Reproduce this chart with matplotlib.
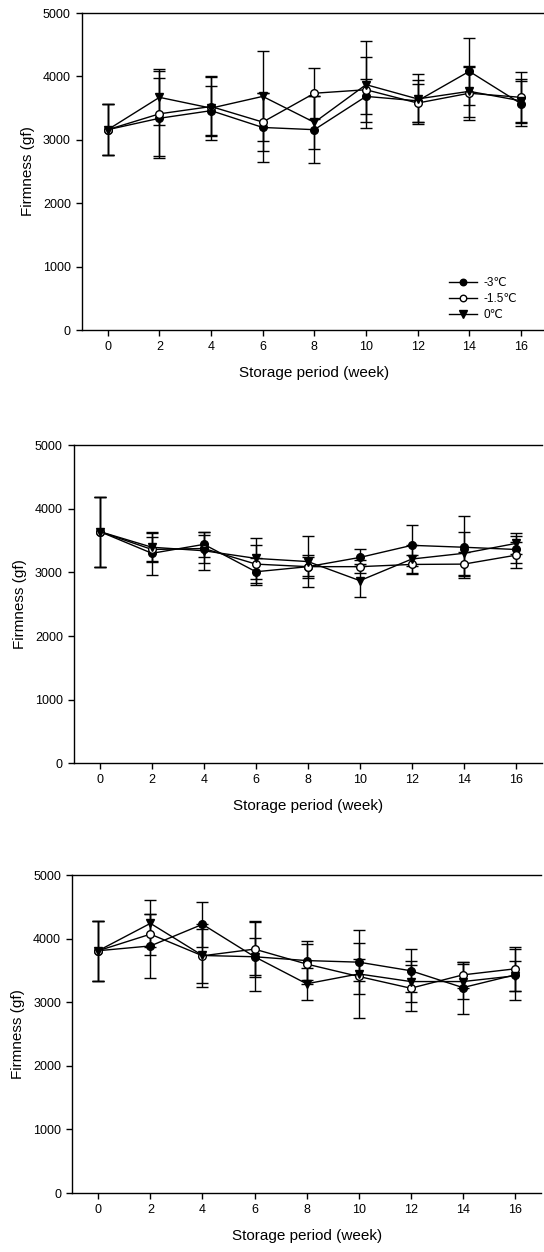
import numpy as np
import matplotlib.pyplot as plt

plt.rcParams['font.family'] = ['Liberation Sans', 'DejaVu Sans']

weeks = [0, 2, 4, 6, 8, 10, 12, 14, 16]
labels = ['-3\u2103', '-1.5\u2103', '0\u2103']

# panel 1
p1_m3 = [3160, 3340, 3460, 3195, 3160, 3685, 3615, 4080, 3570]
p1_m15 = [3160, 3410, 3525, 3280, 3735, 3790, 3580, 3735, 3670]
p1_0 = [3160, 3670, 3500, 3685, 3275, 3870, 3645, 3765, 3615]
p1_m3_err = [400, 630, 390, 550, 525, 280, 330, 525, 350]
p1_m15_err = [400, 670, 460, 460, 405, 510, 300, 420, 395]
p1_0_err = [400, 440, 500, 710, 415, 685, 400, 400, 350]

# panel 2
p2_m3 = [3640, 3300, 3440, 3010, 3090, 3235, 3425, 3395, 3360]
p2_m15 = [3640, 3360, 3375, 3130, 3090, 3090, 3125, 3130, 3270]
p2_0 = [3640, 3395, 3340, 3220, 3170, 2870, 3210, 3300, 3455]
p2_m3_err = [550, 340, 200, 210, 150, 130, 320, 490, 210]
p2_m15_err = [550, 200, 220, 300, 185, 100, 150, 185, 200]
p2_0_err = [550, 220, 300, 325, 395, 260, 225, 340, 170]

# panel 3
p3_m3 = [3810, 3885, 4225, 3715, 3655, 3630, 3495, 3230, 3430]
p3_m15 = [3810, 4070, 3730, 3835, 3600, 3405, 3220, 3430, 3525]
p3_0 = [3810, 4240, 3735, 3715, 3290, 3445, 3325, 3325, 3415]
p3_m3_err = [470, 500, 355, 290, 300, 300, 340, 410, 400]
p3_m15_err = [470, 320, 420, 445, 315, 280, 365, 200, 350]
p3_0_err = [470, 370, 500, 540, 250, 690, 325, 275, 235]

panels = [
    ([0.1507, 0.7364, 0.8544, 0.2532], (p1_m3, p1_m15, p1_0), (p1_m3_err, p1_m15_err, p1_0_err), True),
    ([0.1360, 0.3903, 0.8600, 0.2542], (p2_m3, p2_m15, p2_0), (p2_m3_err, p2_m15_err, p2_0_err), False),
    ([0.1329, 0.0471, 0.8616, 0.2540], (p3_m3, p3_m15, p3_0), (p3_m3_err, p3_m15_err, p3_0_err), False),
]

styles = [
    dict(marker='o', mfc='black', mec='black', ms=5.5),
    dict(marker='o', mfc='white', mec='black', ms=5.5),
    dict(marker='v', mfc='black', mec='black', ms=6),
]

fig = plt.figure(figsize=(5.44, 12.52), dpi=100)

for pos, series, errs, show_legend in panels:
    ax = fig.add_axes(pos)
    for vals, err, st, lab in zip(series, errs, styles, labels):
        ax.errorbar(weeks, vals, yerr=err, color='black', lw=1, elinewidth=1,
                    capsize=4, capthick=1, label=lab, zorder=3, **st)
    ax.set_xlim(-1, 17)
    ax.set_ylim(0, 5000)
    ax.set_xticks(weeks)
    ax.set_yticks([0, 1000, 2000, 3000, 4000, 5000])
    ax.tick_params(direction='out', length=4, width=1, labelsize=9, pad=4)
    ax.spines['right'].set_visible(False)
    for s in ['left', 'bottom', 'top']:
        ax.spines[s].set_linewidth(1)
    ax.set_xlabel('Storage period (week)', fontsize=11, labelpad=9)
    ax.set_ylabel('Firmness (gf)', fontsize=11, labelpad=6)
    if show_legend:
        h, l = ax.get_legend_handles_labels()
        h = [x[0] for x in h]
        ax.legend(h, l, frameon=False, fontsize=8.5, loc='lower right',
                  bbox_to_anchor=(0.96, -0.005), handlelength=2.4,
                  labelspacing=0.35, handletextpad=0.6, markerscale=0.85)

fig.savefig('out.png', dpi=100)
